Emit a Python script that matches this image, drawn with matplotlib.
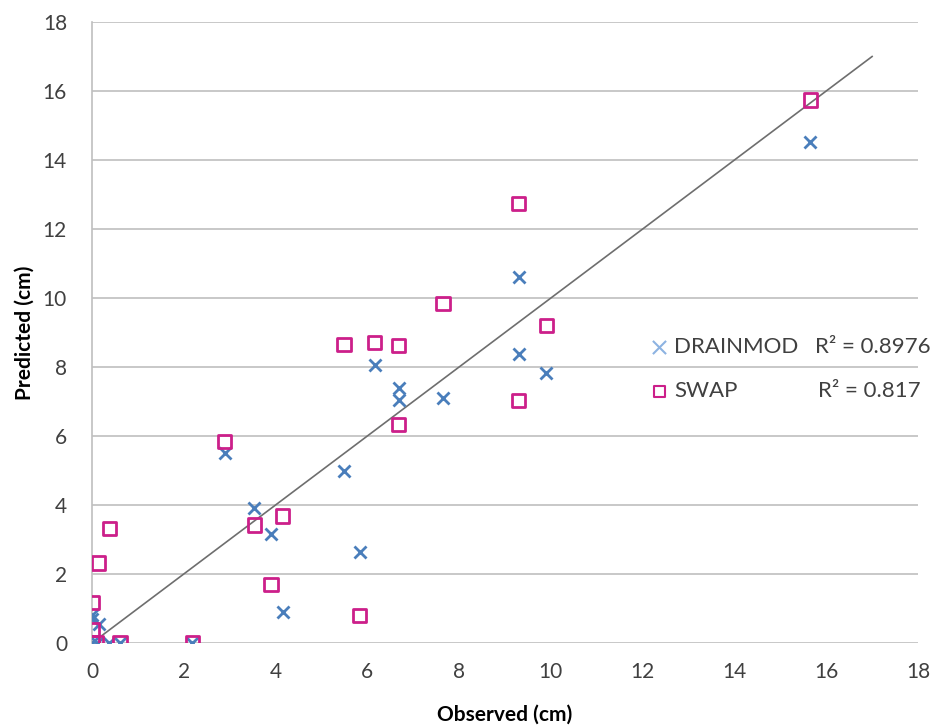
import matplotlib
matplotlib.use('Agg')
import matplotlib.pyplot as plt

# Observed values shared by both models
observed = [15.65, 9.9, 9.3, 9.3, 7.65, 6.68, 6.68, 6.16, 5.83, 5.49,
            4.16, 3.9, 3.54, 2.89, 2.19, 0.61, 0.38, 0.15, 0.0, 0.0, 0.0, 0.1]

# Predicted values
drainmod = [14.53, 7.82, 10.6, 8.38, 7.09, 7.4, 7.04, 8.05, 2.65, 4.99,
            0.89, 3.15, 3.9, 5.5, 0.0, 0.0, 0.0, 0.55, 0.8, 0.7, 0.0, 0.0]
swap = [15.74, 9.2, 12.75, 7.04, 9.85, 8.62, 6.34, 8.72, 0.79, 8.66,
        3.68, 1.7, 3.42, 5.83, 0.0, 0.0, 3.33, 2.32, 1.17, 0.38, 0.0, 0.0]

r2_labels = ['R\u00b2 = 0.8976', 'R\u00b2 = 0.817']
one_to_one = [0, 17]

plt.rcParams['font.family'] = ['Lato', 'DejaVu Sans']

fig = plt.figure(figsize=(9.33, 7.26), dpi=100)
ax = fig.add_axes([92/933, 83/726, 826/933, 621/726])

ax.plot(one_to_one, one_to_one, color='#6e6e6e', lw=1.2, zorder=2)

ax.scatter(observed, drainmod, marker='x', s=75, color='#4a7ebb',
           linewidths=2, zorder=3)
ax.scatter(observed, swap, marker='s', s=90, facecolors='none',
           edgecolors='#cc1f8a', linewidths=2, zorder=4)

ax.set_xlim(0, 18)
ax.set_ylim(0, 18)
ax.set_xticks(range(0, 19, 2))
ax.set_yticks(range(0, 19, 2))
ax.tick_params(length=0, labelsize=15, colors='#404040')
ax.tick_params(axis='x', pad=14)
ax.tick_params(axis='y', pad=18)
ax.grid(axis='y', color='#bfbfbf', lw=1.2)
ax.set_axisbelow(True)
for side in ['top', 'right', 'bottom']:
    ax.spines[side].set_visible(False)
ax.spines['left'].set_color('#bfbfbf')
ax.spines['left'].set_linewidth(1.2)

ax.set_xlabel('Observed (cm)', fontsize=15, fontweight='bold', labelpad=16)
ax.set_ylabel('Predicted (cm)', fontsize=15, fontweight='bold', labelpad=6)

# Legend
ax.scatter([], [], marker='x', s=90, color='#8db3e2', linewidths=1.5, label='DRAINMOD')
ax.scatter([], [], marker='s', s=70, facecolors='none', edgecolors='#cc1f8a',
           linewidths=1.5, label='SWAP')
handles, labels = ax.get_legend_handles_labels()
leg = ax.legend(handles[-2:], labels[-2:], loc='center left', bbox_to_anchor=(0.66, 0.441),
                frameon=False, fontsize=16, handletextpad=0.15, labelspacing=1.1,
                handlelength=1.0, borderpad=0)
for t in leg.get_texts():
    t.set_color('#404040')
ax.text(15.75, 8.58, r2_labels[0], fontsize=16, color='#404040', va='center')
ax.text(15.82, 7.3, r2_labels[1], fontsize=16, color='#404040', va='center')

fig.savefig('out.png', dpi=100)
